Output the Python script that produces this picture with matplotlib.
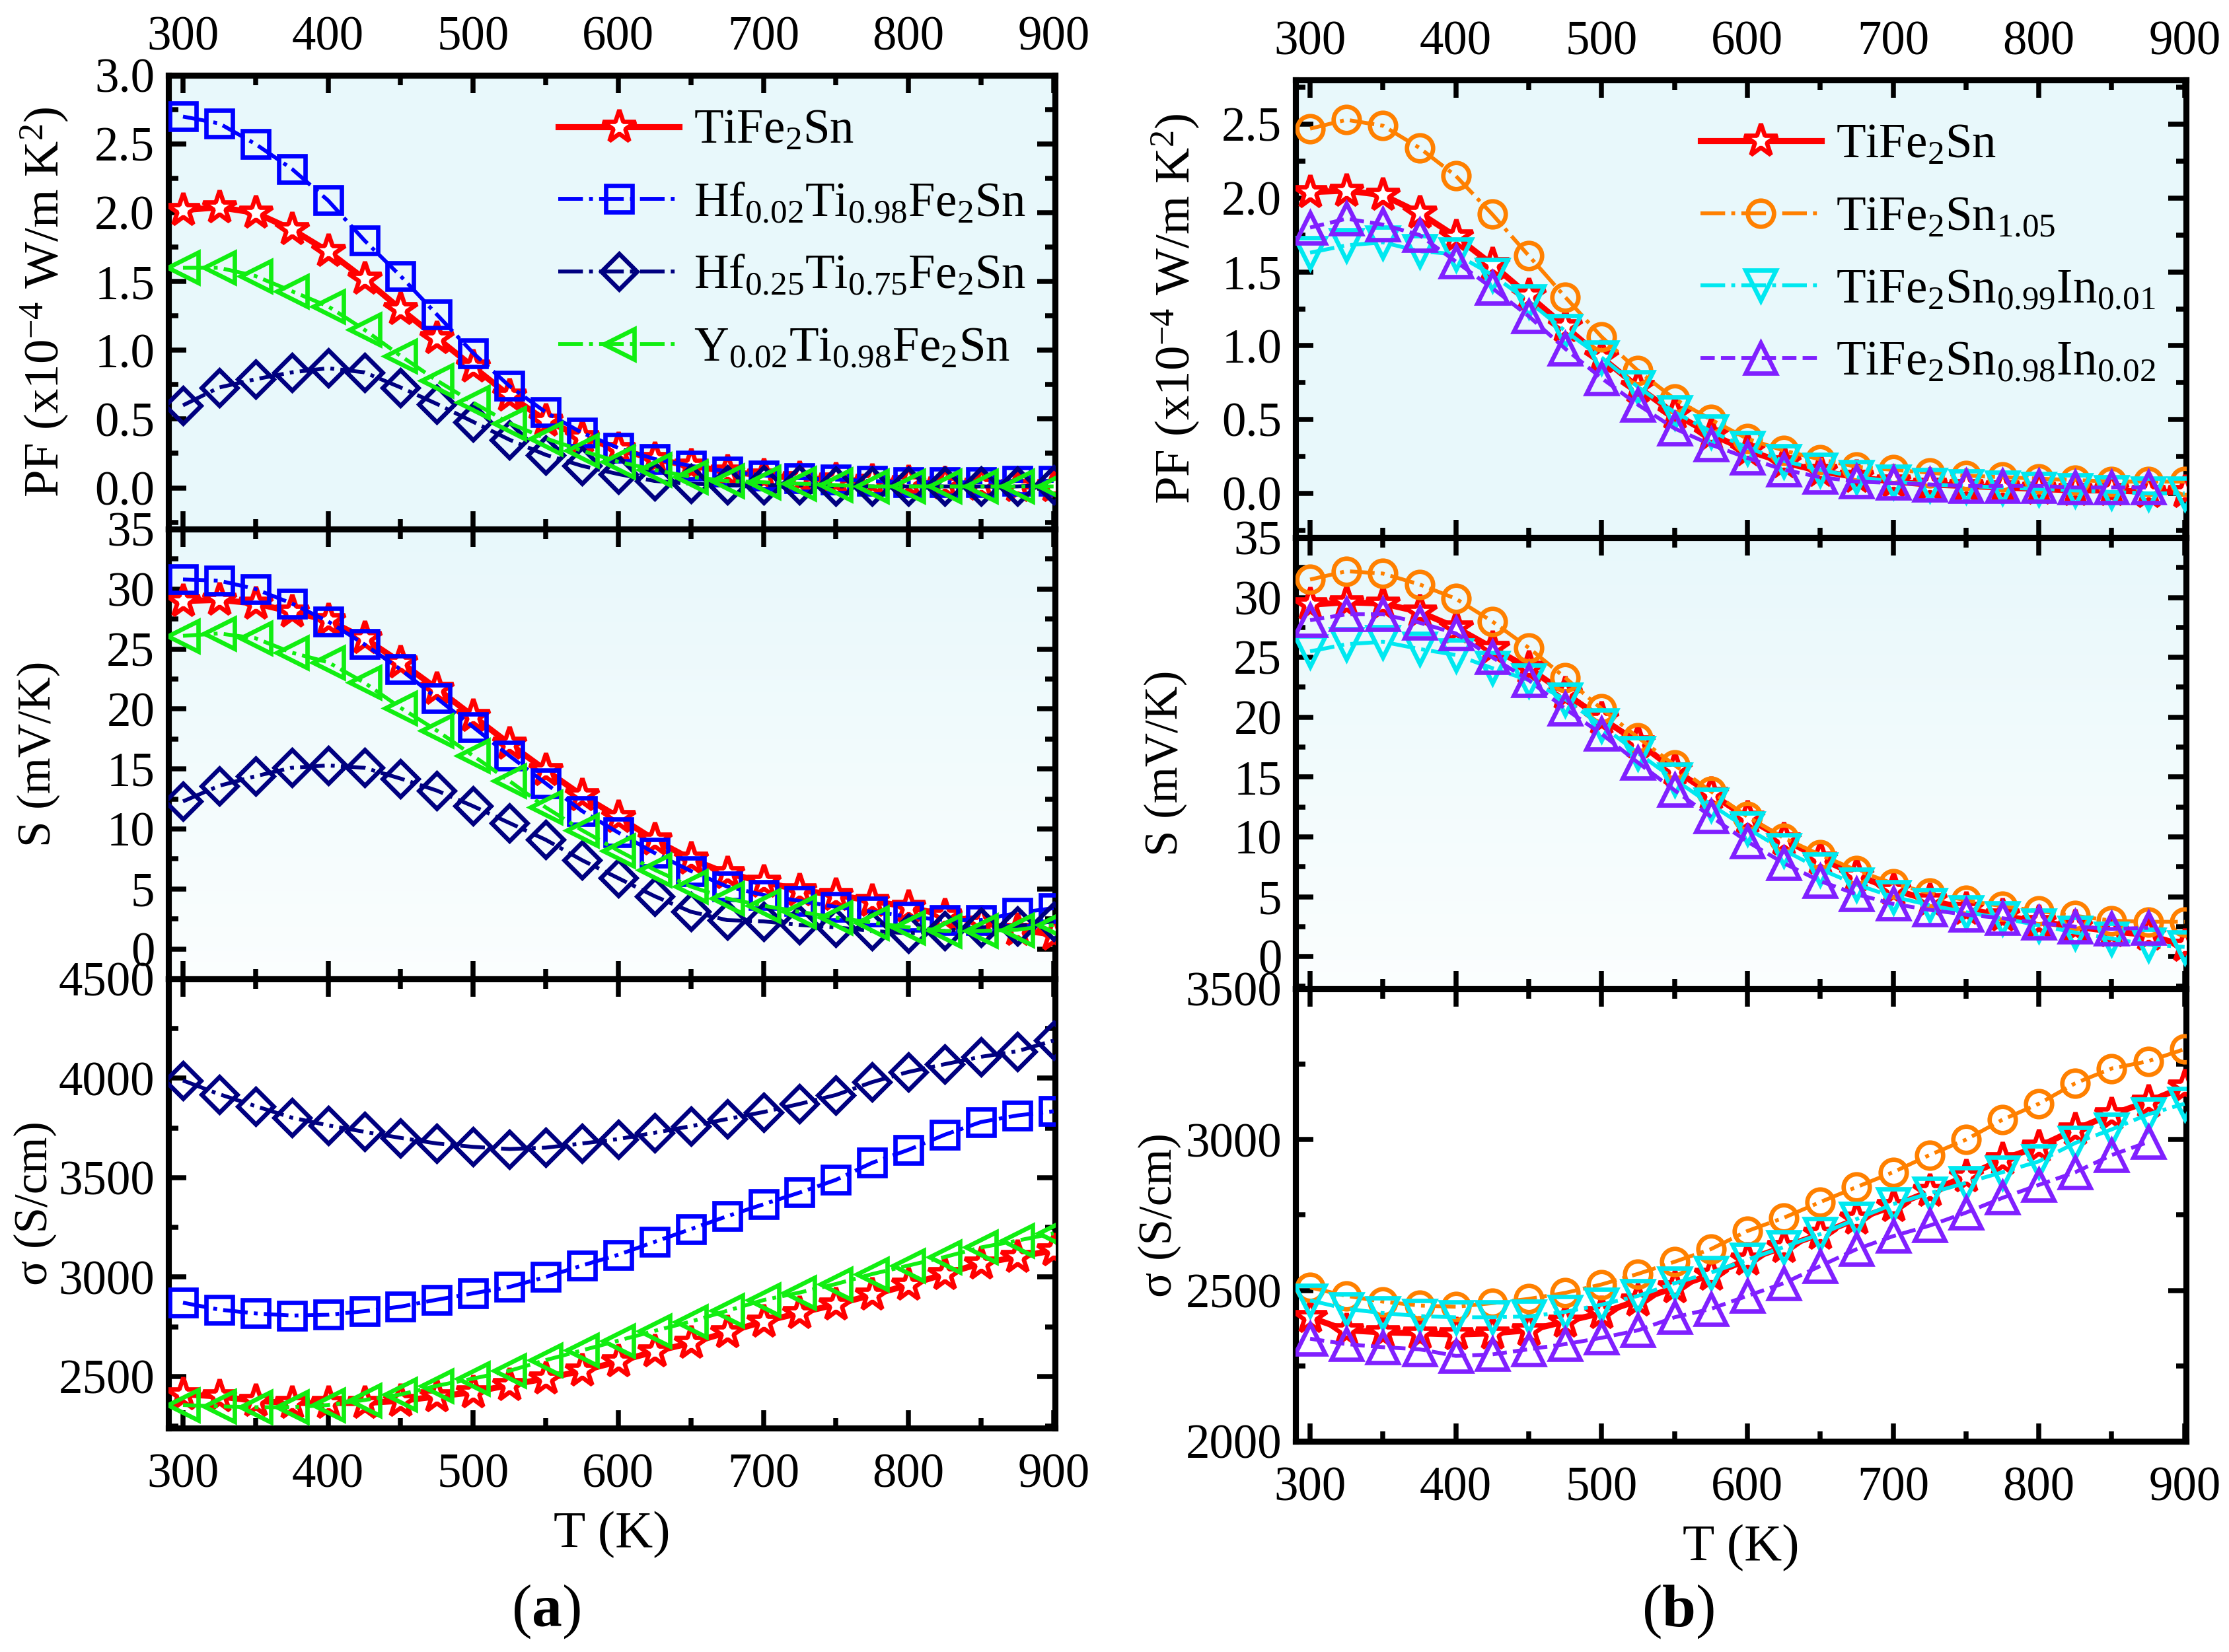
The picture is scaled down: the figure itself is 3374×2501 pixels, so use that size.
import numpy as np
import matplotlib
matplotlib.use("Agg")
import matplotlib.pyplot as plt
from matplotlib.ticker import MultipleLocator

plt.rcParams['font.family'] = ['Liberation Serif', 'DejaVu Serif']
plt.rcParams['mathtext.fontset'] = 'custom'
plt.rcParams['mathtext.rm'] = 'Liberation Serif'
plt.rcParams['mathtext.bf'] = 'Liberation Serif:bold'
plt.rcParams['mathtext.default'] = 'regular'

# measurement temperatures (K)
T = list(range(300, 925, 25))

# ---- panel (a) ----
labels_a = ['TiFe$_2$Sn', 'Hf$_{0.02}$Ti$_{0.98}$Fe$_2$Sn',
            'Hf$_{0.25}$Ti$_{0.75}$Fe$_2$Sn', 'Y$_{0.02}$Ti$_{0.98}$Fe$_2$Sn']

pf_tfs_a = [2.02, 2.04, 2.00, 1.88, 1.72, 1.52, 1.30, 1.09, 0.88, 0.67, 0.49, 0.37, 0.28,
            0.21, 0.16, 0.12, 0.09, 0.07, 0.06, 0.05, 0.04, 0.03, 0.02, 0.01, 0.01]
pf_hf02 = [2.70, 2.65, 2.50, 2.32, 2.09, 1.80, 1.54, 1.26, 0.98, 0.74, 0.55, 0.40, 0.29,
           0.21, 0.16, 0.12, 0.09, 0.07, 0.06, 0.05, 0.04, 0.04, 0.04, 0.05, 0.05]
pf_hf25 = [0.60, 0.73, 0.79, 0.84, 0.87, 0.84, 0.73, 0.61, 0.48, 0.35, 0.24, 0.16, 0.10,
           0.05, 0.03, 0.02, 0.02, 0.02, 0.01, 0.01, 0.01, 0.01, 0.01, 0.01, 0.02]
pf_y02 = [1.60, 1.60, 1.54, 1.43, 1.32, 1.15, 0.96, 0.78, 0.62, 0.47, 0.36, 0.27, 0.19,
          0.13, 0.08, 0.05, 0.04, 0.03, 0.02, 0.01, 0.01, 0.01, 0.01, 0.01, 0.01]

s_tfs_a = [29.0, 29.1, 28.8, 28.1, 27.4, 25.9, 23.9, 21.7, 19.4, 17.1, 14.9, 12.8, 11.0,
           9.1, 7.5, 6.3, 5.6, 4.9, 4.5, 4.0, 3.5, 2.8, 2.2, 1.6, 1.2]
s_hf02 = [30.8, 30.7, 30.0, 28.8, 27.3, 25.4, 23.3, 20.9, 18.5, 16.1, 13.8, 11.5, 9.7,
          8.0, 6.5, 5.2, 4.5, 4.0, 3.5, 3.1, 2.7, 2.4, 2.4, 3.0, 3.4]
s_hf25 = [12.3, 13.6, 14.4, 15.1, 15.3, 15.1, 14.2, 13.2, 11.9, 10.5, 9.1, 7.4, 5.9,
          4.4, 3.1, 2.4, 2.3, 2.0, 1.8, 1.5, 1.3, 1.5, 1.8, 1.9, 2.3]
s_y02 = [26.1, 26.3, 25.9, 24.7, 23.9, 22.2, 20.1, 18.2, 16.1, 14.0, 11.8, 9.9, 8.2,
         6.6, 5.2, 4.2, 3.6, 3.1, 2.6, 2.2, 1.8, 1.5, 1.5, 1.6, 2.0]

sig_tfs_a = [2410, 2399, 2377, 2366, 2366, 2366, 2377, 2399, 2420, 2457, 2489, 2528, 2575,
             2625, 2668, 2722, 2776, 2819, 2862, 2910, 2960, 3015, 3069, 3101, 3134]
sig_hf02 = [2871, 2836, 2817, 2806, 2810, 2828, 2851, 2886, 2918, 2950, 3000, 3058, 3112,
            3177, 3241, 3306, 3366, 3425, 3489, 3575, 3640, 3716, 3780, 3813, 3834]
sig_hf25 = [3989, 3920, 3860, 3802, 3763, 3731, 3700, 3672, 3655, 3644, 3651, 3672, 3694,
            3726, 3759, 3795, 3830, 3871, 3916, 3981, 4032, 4071, 4108, 4136, 4190]
sig_y02 = [2356, 2349, 2345, 2345, 2356, 2381, 2409, 2453, 2489, 2528, 2582, 2631, 2680,
           2729, 2776, 2830, 2884, 2922, 2965, 3015, 3058, 3101, 3149, 3183, 3220]

# ---- panel (b) ----
labels_b = ['TiFe$_2$Sn', 'TiFe$_2$Sn$_{1.05}$',
            'TiFe$_2$Sn$_{0.99}$In$_{0.01}$', 'TiFe$_2$Sn$_{0.98}$In$_{0.02}$']

pf_tfs_b = [2.04, 2.05, 2.02, 1.90, 1.74, 1.55, 1.34, 1.13, 0.92, 0.72, 0.54, 0.40, 0.29,
            0.21, 0.15, 0.11, 0.08, 0.06, 0.05, 0.04, 0.03, 0.02, 0.02, 0.01, 0.01]
pf_sn105 = [2.47, 2.53, 2.49, 2.34, 2.15, 1.89, 1.61, 1.33, 1.06, 0.83, 0.64, 0.50, 0.37,
            0.29, 0.23, 0.18, 0.16, 0.14, 0.12, 0.11, 0.10, 0.09, 0.08, 0.08, 0.08]
pf_in01 = [1.63, 1.68, 1.70, 1.64, 1.62, 1.48, 1.30, 1.10, 0.92, 0.72, 0.55, 0.42, 0.31,
           0.22, 0.16, 0.11, 0.08, 0.06, 0.05, 0.04, 0.03, 0.02, 0.01, 0.00, 0.00]
pf_in02 = [1.80, 1.86, 1.82, 1.75, 1.57, 1.39, 1.20, 0.98, 0.78, 0.60, 0.44, 0.33, 0.24,
           0.16, 0.11, 0.08, 0.07, 0.06, 0.05, 0.05, 0.05, 0.04, 0.04, 0.04]

s_tfs_b = [29.4, 29.6, 29.5, 28.8, 27.5, 25.8, 24.1, 22.0, 19.9, 17.9, 15.6, 13.6, 11.6,
           9.8, 8.2, 6.8, 5.6, 4.7, 4.0, 3.4, 2.9, 2.5, 2.1, 1.8, 0.9]
s_sn105 = [31.5, 32.2, 32.0, 31.1, 29.9, 28.0, 25.8, 23.3, 20.7, 18.3, 16.0, 13.8, 11.7,
           9.9, 8.5, 7.2, 6.1, 5.3, 4.7, 4.2, 3.8, 3.4, 3.0, 2.9, 2.9]
s_in01 = [25.5, 26.1, 26.3, 25.7, 25.2, 24.1, 23.1, 21.5, 19.3, 17.0, 14.8, 12.7, 10.7,
          8.9, 7.3, 6.0, 5.0, 4.3, 3.7, 3.2, 2.6, 2.0, 1.5, 1.0, 0.8]
s_in02 = [28.1, 28.6, 28.6, 27.9, 27.0, 25.0, 23.1, 20.7, 18.6, 16.2, 13.9, 11.7, 9.6,
          7.8, 6.3, 5.2, 4.4, 3.9, 3.5, 3.2, 2.8, 2.5, 2.3, 2.4]

sig_tfs_b = [2411, 2368, 2361, 2358, 2354, 2358, 2368, 2397, 2425, 2467, 2510, 2552, 2602,
             2644, 2687, 2737, 2779, 2829, 2878, 2935, 2977, 3034, 3084, 3126, 3176]
sig_sn105 = [2510, 2482, 2463, 2450, 2446, 2458, 2472, 2492, 2520, 2555, 2595, 2637, 2697,
             2741, 2793, 2843, 2892, 2949, 3000, 3066, 3119, 3187, 3236, 3260, 3300]
sig_in01 = [2467, 2439, 2425, 2415, 2411, 2411, 2414, 2429, 2453, 2482, 2524, 2559, 2602,
            2644, 2687, 2737, 2786, 2822, 2857, 2892, 2928, 2989, 3034, 3084, 3119]
sig_in02 = [2340, 2322, 2312, 2305, 2283, 2288, 2305, 2322, 2343, 2368, 2411, 2439, 2482,
            2524, 2581, 2637, 2680, 2715, 2758, 2807, 2850, 2892, 2949, 2992]

# series styles: color, marker, size, linestyle, linewidth
styles_a = [('#ff0000', '*', 12.5, '-', 2.2),
            ('#0000ff', 's', 9.5, '-.', 1.4),
            ('#000080', 'D', 9.0, '-.', 1.4),
            ('#11ee11', '<', 11, '-.', 1.4)]
styles_b = [('#ff0000', '*', 12.5, '-', 2.2),
            ('#ff8000', 'o', 9.5, '-.', 1.4),
            ('#00e8f0', 'v', 11, '-.', 1.4),
            ('#8020ff', '^', 11, '--', 1.4)]

cyan_top = np.array([0.91, 0.972, 0.984])
cyan_low = np.array([0.985, 0.997, 0.997])


def shade(ax, top, bottom):
    f = np.linspace(0, 1, 256)[:, None, None]
    img = top[None, None, :] * (1 - f) + bottom[None, None, :] * f
    ax.imshow(img, extent=(0, 1, 0, 1), transform=ax.transAxes,
              aspect='auto', zorder=0, interpolation='bilinear')


def style_axis(ax, ymajor, yminor, ylim, top_labels=False, bottom_labels=False):
    ax.set_xlim(290, 901)
    ax.set_ylim(*ylim)
    ax.xaxis.set_major_locator(MultipleLocator(100))
    ax.xaxis.set_minor_locator(MultipleLocator(50))
    ax.yaxis.set_major_locator(MultipleLocator(ymajor))
    ax.yaxis.set_minor_locator(MultipleLocator(yminor))
    ax.tick_params(which='both', direction='in', top=True, right=True,
                   width=1.8, labelsize=17.5)
    ax.tick_params(which='major', length=6.5)
    ax.tick_params(which='minor', length=3.5)
    ax.tick_params(axis='x', labeltop=top_labels, labelbottom=bottom_labels)
    ax.tick_params(axis='x', which='major', pad=9 if bottom_labels else 5.5)
    ax.tick_params(axis='y', pad=5)
    for sp in ax.spines.values():
        sp.set_linewidth(2.2)


def draw_panel(x0, width, bounds, pf, s, sig, styles, labels, lims, leg_anchor, label_x):
    top, b1, b2, bot = bounds
    W, H = 3374.0, 2501.0
    axs = []
    for ytop, ybot in [(top, b1), (b1, b2), (b2, bot)]:
        axs.append(fig.add_axes([x0 / W, 1 - ybot / H, width / W, (ybot - ytop) / H]))
    ax_pf, ax_s, ax_sig = axs
    ax_pf.set_facecolor(cyan_top)
    shade(ax_s, cyan_top, cyan_low)

    handles = []
    for ax, data in [(ax_pf, pf), (ax_s, s), (ax_sig, sig)]:
        for vals, (c, m, ms, ls, lw) in zip(data, styles):
            mfc = 'white' if m == '*' else 'none'
            h, = ax.plot(T[:len(vals)], vals, color=c, ls=ls, lw=lw, marker=m, ms=ms,
                         mfc=mfc, mec=c, mew=1.6, zorder=3)
            if ax is ax_pf:
                handles.append(h)

    style_axis(ax_pf, 0.5, 0.25, lims[0], top_labels=True)
    style_axis(ax_s, 5, 2.5, lims[1])
    style_axis(ax_sig, 500, 250, lims[2], bottom_labels=True)

    ax_pf.set_ylabel('PF (x10$^{-4}$ W/m K$^{2}$)', fontsize=18)
    ax_s.set_ylabel('S (mV/K)', fontsize=17)
    ax_sig.set_ylabel('σ (S/cm)', fontsize=17)
    for ax, lx in zip(axs, label_x):
        ax.yaxis.set_label_coords(lx, 0.5)
    ax_sig.set_xlabel('T (K)', fontsize=19, labelpad=5)

    ax_pf.legend(handles, labels, loc='upper left', bbox_to_anchor=leg_anchor,
                 frameon=False, fontsize=17.5, handlelength=2.5, handletextpad=0.3,
                 labelspacing=0.58, borderaxespad=0, borderpad=0, numpoints=1)
    return axs


fig = plt.figure(figsize=(3374 / 300, 2501 / 300), dpi=300)

draw_panel(255, 1342, (114, 801, 1482, 2162),
           [pf_tfs_a, pf_hf02, pf_hf25, pf_y02],
           [s_tfs_a, s_hf02, s_hf25, s_y02],
           [sig_tfs_a, sig_hf02, sig_hf25, sig_y02],
           styles_a, labels_a,
           [(-0.3, 3.0), (-2.5, 35), (2240, 4500)], (0.44, 0.925),
           (-0.11, -0.122, -0.126))

draw_panel(1961, 1348, (121, 814, 1497, 2182),
           [pf_tfs_b, pf_sn105, pf_in01, pf_in02],
           [s_tfs_b, s_sn105, s_in01, s_in02],
           [sig_tfs_b, sig_sn105, sig_in01, sig_in02],
           styles_b, labels_b,
           [(-0.3, 2.8), (-2.7, 35), (2000, 3500)], (0.455, 0.905),
           (-0.105, -0.122, -0.128))

fig.text(826 / 3374, 1 - 2440 / 2501, '($\\mathbf{a}$)', ha='center', va='center', fontsize=22)
fig.text(2540 / 3374, 1 - 2440 / 2501, '($\\mathbf{b}$)', ha='center', va='center', fontsize=22)

fig.savefig('out.png', dpi=300)
